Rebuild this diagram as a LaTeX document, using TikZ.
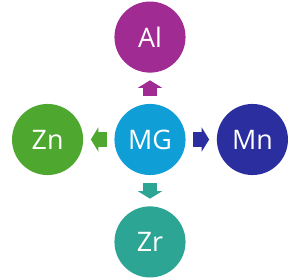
\documentclass[tikz,border=0pt]{standalone}
\usepackage{fontspec}
\setmainfont{Open Sans}
\usetikzlibrary{arrows.meta, positioning}
\definecolor{mgBlue}{HTML}{0F9ED5}
\definecolor{alPurple}{HTML}{A02B93}
\definecolor{znGreen}{HTML}{4EA72E}
\definecolor{mnNavy}{HTML}{2B2E9E}
\definecolor{zrTeal}{HTML}{2CA594}

\begin{document}
\begin{tikzpicture}[
    node distance=1.03cm,
    elem/.style={circle, minimum size=2.37cm, inner sep=0pt, text=white,
                 font=\fontsize{25.5}{30}\selectfont},
    blk/.style={line width=0.47cm, shorten <=0.25cm, shorten >=0.25cm,
                -{Triangle[width=0.8cm, length=0.25cm]}},
  ]
    \useasboundingbox (-5, -4.68) rectangle (5, 4.65);

    % Centro
    \node[elem, fill=mgBlue] (mg) at (0, 0) {MG};

    % Elementos alrededor
    \node[elem, fill=alPurple, above=of mg] (al) {Al};
    \node[elem, fill=znGreen, left=of mg] (zn) {Zn};
    \node[elem, fill=mnNavy, right=of mg] (mn) {Mn};
    \node[elem, fill=zrTeal, below=of mg] (zr) {Zr};

    % Flechas
    \draw[blk, alPurple] (mg) -- (al);
    \draw[blk, znGreen] (mg) -- (zn);
    \draw[blk, mnNavy] (mg) -- (mn);
    \draw[blk, zrTeal] (mg) -- (zr);
  \end{tikzpicture}
\end{document}
